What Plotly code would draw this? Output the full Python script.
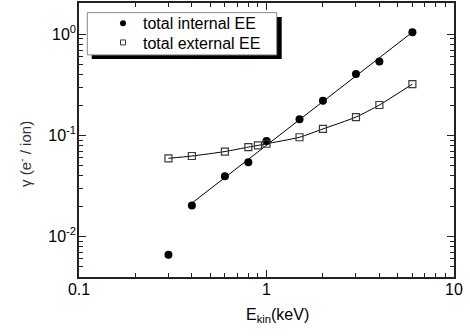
import numpy as np
import plotly.graph_objects as go

# Data
energy_int = [0.3, 0.4, 0.6, 0.8, 1.0, 1.5, 2.0, 3.0, 4.0, 6.0]
gamma_int = [0.0066, 0.0203, 0.0395, 0.0543, 0.088, 0.145, 0.221, 0.405, 0.54, 1.05]
energy_ext = [0.3, 0.4, 0.6, 0.8, 0.9, 1.0, 1.5, 2.0, 3.0, 4.0, 6.0]
gamma_ext = [0.0594, 0.0626, 0.0693, 0.0767, 0.0797, 0.0828, 0.096, 0.116, 0.152, 0.200, 0.322]
x_tickvals = [0.1, 1, 10]
x_ticktext = ["0.1", "1", "10"]
y_tickvals = [0.01, 0.1, 1]
y_ticktext = ["10<sup>-2</sup>", "10<sup>-1</sup>", "10<sup>0</sup>"]
x_minor = [m * d for d in [0.1, 1] for m in range(2, 10)]
y_minor = [m * d for d in [0.001, 0.01, 0.1, 1] for m in range(2, 10)]

X_RANGE = [-1, 1]
Y_RANGE = [-2.4, 0.31]

# power-law fit for internal EE (points from 0.4 keV)
lx = np.log10(energy_int[1:])
ly = np.log10(gamma_int[1:])
p = np.polyfit(lx, ly, 1)
fit_x = np.array([energy_int[1], energy_int[-1]])
fit_y = 10 ** np.polyval(p, np.log10(fit_x))

FONT = "Liberation Sans, Arial, sans-serif"
SQ_COLOR = "#3a3a3a"
AX_COLOR = "#222222"

fig = go.Figure()
# dummy trace so that the minor-tick overlay axes are drawn
fig.add_trace(go.Scatter(x=[None], y=[None], xaxis="x2", yaxis="y2", mode="markers",
                         showlegend=False, hoverinfo="skip"))
fig.add_trace(go.Scatter(x=fit_x, y=fit_y, mode="lines",
                         line=dict(color="black", width=1), showlegend=False, hoverinfo="skip"))
fig.add_trace(go.Scatter(x=energy_ext, y=gamma_ext, mode="lines",
                         line=dict(color="black", width=1, shape="spline", smoothing=0.6),
                         showlegend=False, hoverinfo="skip"))
fig.add_trace(go.Scatter(x=energy_int, y=gamma_int, mode="markers", name="total internal EE",
                         marker=dict(symbol="circle", size=8, color="black"), showlegend=False))
fig.add_trace(go.Scatter(x=energy_ext, y=gamma_ext, mode="markers", name="total external EE",
                         marker=dict(symbol="square-open", size=7, color=SQ_COLOR,
                                     line=dict(width=1.2, color=SQ_COLOR)), showlegend=False))
# legend entries (smaller symbols as in the reference)
fig.add_trace(go.Scatter(x=[None], y=[None], mode="markers", name="total internal EE",
                         marker=dict(symbol="circle", size=6, color="black"), legend="legend"))
fig.add_trace(go.Scatter(x=[None], y=[None], mode="markers", name="total external EE",
                         marker=dict(symbol="square-open", size=5, color=SQ_COLOR,
                                     line=dict(width=1, color=SQ_COLOR)), legend="legend2"))

L, R, T, B = 79, 16, 1, 59
W, H = 470, 336
pw, ph = W - L - R, H - T - B


def px2x(px):
    return (px - L) / pw


def px2y(py):
    return (H - B - py) / ph


axis_common = dict(type="log", showgrid=False, zeroline=False, showline=True,
                   linecolor=AX_COLOR, linewidth=1.5, mirror="allticks",
                   ticks="inside", ticklen=7, tickwidth=1, tickcolor=AX_COLOR,
                   tickfont=dict(family=FONT, size=16, color="black"))

minor_common = dict(type="log", showgrid=False, zeroline=False, showline=False,
                    mirror="allticks", ticks="inside", ticklen=4, tickwidth=1,
                    tickcolor=AX_COLOR, showticklabels=False)

fig.update_layout(
    xaxis=dict(range=X_RANGE, tickvals=x_tickvals, ticktext=x_ticktext,
               ticklabelstandoff=-3, **axis_common),
    yaxis=dict(range=Y_RANGE, tickvals=y_tickvals, ticktext=y_ticktext,
               ticklabelstandoff=-2, **axis_common),
    xaxis2=dict(overlaying="x", anchor="y2", range=X_RANGE, tickvals=x_minor, side="bottom", **minor_common),
    yaxis2=dict(overlaying="y", anchor="x2", range=Y_RANGE, tickvals=y_minor, side="left", **minor_common),
)

shapes = [
    dict(type="rect", xref="paper", yref="paper", x0=px2x(91.7), x1=px2x(281.7), y0=px2y(57.5), y1=px2y(15),
         fillcolor="black", line=dict(width=0), layer="above"),
    dict(type="rect", xref="paper", yref="paper", x0=px2x(87.3), x1=px2x(276.7), y0=px2y(53.3), y1=px2y(10.7),
         fillcolor="white", line=dict(width=1, color="#888888"), layer="above"),
]

annotations = [
    dict(text="E<sub>kin</sub>(keV)", xref="paper", yref="paper", x=px2x(277), y=px2y(316),
         showarrow=False, xanchor="center", yanchor="middle",
         font=dict(family=FONT, size=16, color="black")),
    dict(text="γ (e<sup>-</sup> / ion)", xref="paper", yref="paper", x=px2x(25), y=px2y(153),
         showarrow=False, xanchor="center", yanchor="middle", textangle=-90,
         font=dict(family=FONT, size=15, color="#333333")),
]

legend_common = dict(xanchor="left", yanchor="top", bgcolor="rgba(0,0,0,0)", borderwidth=0,
                     font=dict(family=FONT, size=16, color="black"), tracegroupgap=0)

fig.update_layout(
    width=W, height=H,
    margin=dict(l=L, r=R, t=T, b=B, pad=0),
    paper_bgcolor="white", plot_bgcolor="white",
    shapes=shapes, annotations=annotations,
    showlegend=True,
    legend=dict(x=px2x(103), y=px2y(4.3), **legend_common),
    legend2=dict(x=px2x(103), y=px2y(23.7), **legend_common),
)

fig.write_html("out.html", config={"displayModeBar": False},
               post_script="document.body.style.margin='0';document.body.style.overflow='hidden';")
